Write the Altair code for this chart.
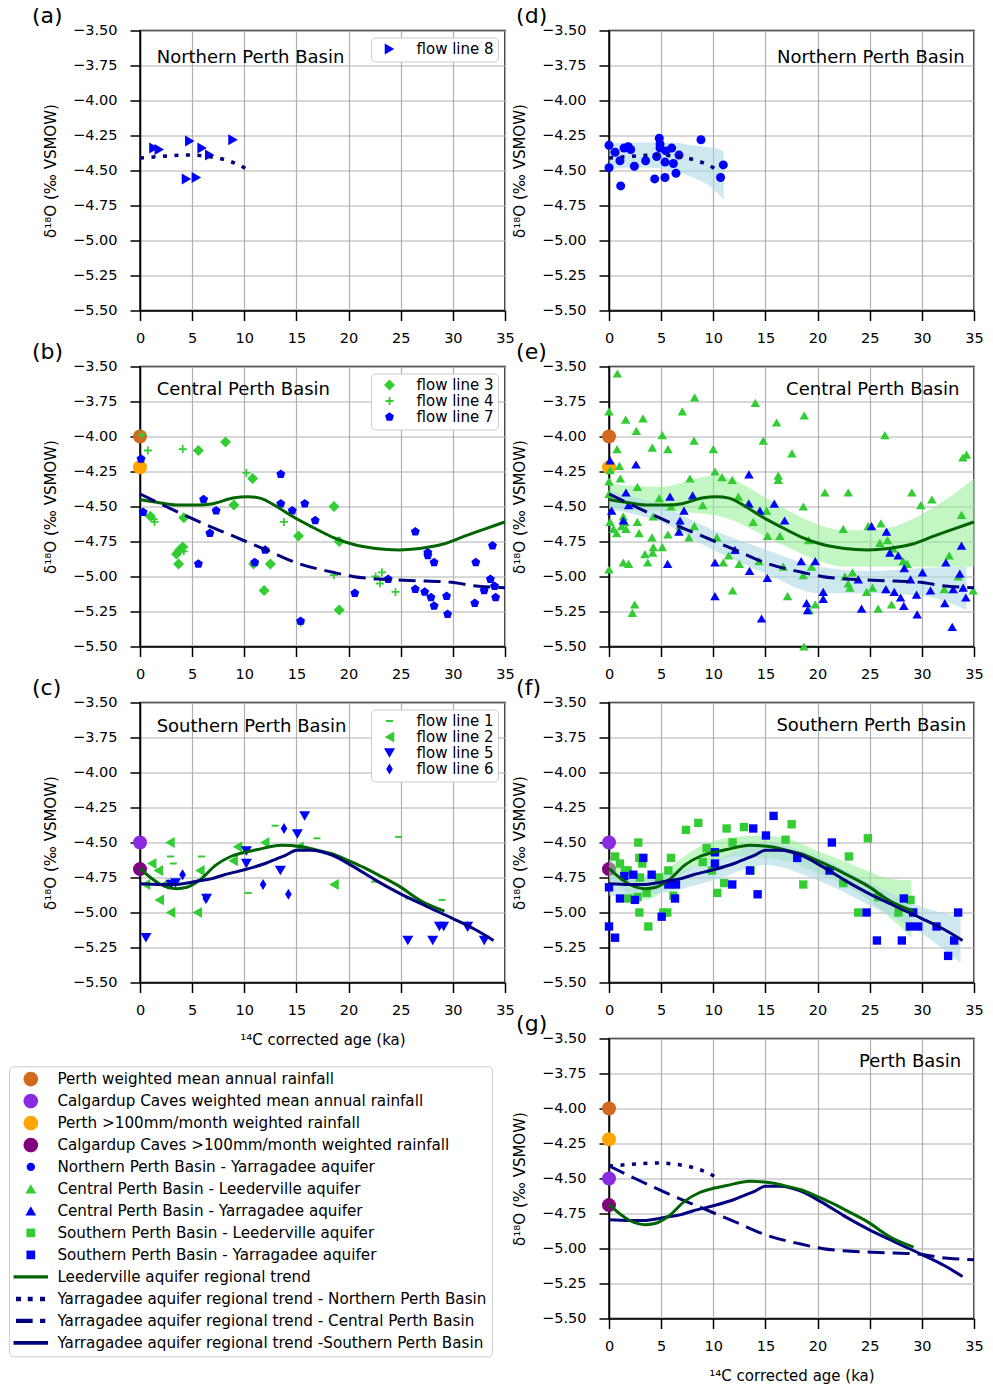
import altair as alt
import pandas as pd

FONT = "DejaVu Sans"
X_TITLE = "¹⁴C corrected age (ka)"
Y_TITLE = "δ¹⁸O (‰ VSMOW)"
AGE_TICKS = [0, 5, 10, 15, 20, 25, 30, 35]
D18O_TICKS = [-3.5, -3.75, -4.0, -4.25, -4.5, -4.75, -5.0, -5.25, -5.5]

# ---------------- rainfall reference values (plotted at age 0) ----------------
RAIN_LABELS = ["Perth weighted mean annual rainfall",
               "Calgardup Caves weighted mean annual rainfall",
               "Perth >100mm/month weighted rainfall",
               "Calgardup Caves >100mm/month weighted rainfall"]
RAIN_D18O = [-4.00, -4.50, -4.22, -4.69]
RAIN_COLORS = ["#d2691e", "#8a2be2", "#ffa500", "#800080"]

# ---------------- flow lines (panels a, b, c) ----------------
FL8_AGE = [1.34, 1.85, 4.78, 5.96, 6.69, 8.92, 4.46, 5.41]
FL8_D18O = [-4.34, -4.35, -4.29, -4.34, -4.39, -4.28, -4.56, -4.55]

FL3_AGE = [1.0, 4.2, 3.5, 3.8, 4.1, 3.7, 5.6, 8.2, 10.8, 9.0, 12.5, 11.9, 10.9, 15.2, 18.6, 19.1, 19.1]
FL3_D18O = [-4.57, -4.58, -4.84, -4.81, -4.79, -4.91, -4.10, -4.04, -4.30, -4.49, -4.91, -5.10, -4.91,
            -4.71, -4.50, -4.75, -5.24]
FL4_AGE = [0.15, 0.75, 4.1, 10.2, 1.4, 1.3, 4.2, 13.8, 15.4, 18.6, 22.6, 23.2, 23.0, 24.5]
FL4_D18O = [-3.99, -4.10, -4.09, -4.26, -4.61, -4.59, -4.82, -4.61, -5.33, -4.99, -5.00, -4.97, -5.05, -5.11]
FL7_AGE = [0.1, 0.3, 6.1, 7.3, 6.7, 5.6, 11.0, 12.0, 13.5, 13.5, 14.6, 15.8, 16.8, 15.4, 20.6, 23.8, 26.4,
           26.4, 27.3, 27.6, 27.6, 28.2, 27.9, 28.2, 29.4, 29.5, 32.1, 32.2, 33.0, 33.6, 33.8, 34.0, 34.1]
FL7_D18O = [-4.16, -4.54, -4.45, -4.53, -4.69, -4.91, -4.90, -4.81, -4.27, -4.48, -4.53, -4.48, -4.60,
            -5.32, -5.12, -5.02, -4.68, -5.09, -5.11, -4.83, -4.85, -4.90, -5.15, -5.21, -5.14, -5.27,
            -5.19, -4.90, -5.10, -5.02, -4.78, -5.07, -5.15]

FL1_AGE = [2.93, 3.19, 5.9, 12.95, 16.97, 24.8, 10.37, 22.49, 25.77, 28.96]
FL1_D18O = [-4.60, -4.65, -4.60, -4.38, -4.47, -4.46, -4.86, -4.78, -4.90, -4.91]
FL2_AGE = [2.87, 1.12, 1.75, 0.54, 1.85, 2.93, 5.49, 5.74, 9.35, 11.96, 8.93, 15.25, 18.6, 2.33]
FL2_D18O = [-4.50, -4.65, -4.70, -4.80, -4.91, -5.00, -5.00, -4.70, -4.53, -4.50, -4.63, -4.53, -4.80, -4.80]
FL5_AGE = [0.57, 2.97, 3.41, 6.38, 10.2, 10.2, 13.46, 15.09, 15.79, 25.68, 28.07, 28.71, 29.12, 31.42, 33.01]
FL5_D18O = [-5.18, -4.80, -4.79, -4.90, -4.56, -4.65, -4.70, -4.44, -4.31, -5.20, -5.20, -5.10, -5.10,
            -5.10, -5.20]
FL6_AGE = [4.08, 6.32, 11.8, 13.81, 14.23, 31.42]
FL6_D18O = [-4.73, -4.90, -4.80, -4.40, -4.87, -5.10]

# ---------------- aquifer samples (panels d, e, f) ----------------
NY_AGE = [0.0, 0.0, 0.58, 1.05, 1.12, 1.44, 1.85, 2.08, 2.43, 3.51, 4.38, 4.57, 4.82, 4.89, 4.89, 5.37,
          5.37, 5.46, 6.01, 6.17, 6.42, 6.71, 8.82, 10.70, 10.96]
NY_D18O = [-4.32, -4.48, -4.37, -4.43, -4.61, -4.34, -4.33, -4.35, -4.47, -4.43, -4.56, -4.40, -4.27,
           -4.31, -4.34, -4.44, -4.55, -4.36, -4.34, -4.45, -4.52, -4.39, -4.28, -4.55, -4.46]

CL_AGE = [0.80, 0.0, 1.60, 3.26, 2.62, 5.11, 5.65, 4.15, 0.77, 7.03,
          8.21, 8.15, 10.0, 14.03, 14.79, 16.07, 18.72, 17.54, 16.23, 16.23,
          10.16, 10.83, 11.82, 7.76, 2.72, 0.99, 0.10, 1.09, 0.0, 0.0,
          4.82, 5.94, 8.98, 12.40, 13.35, 15.11, 18.63, 20.70, 22.94, 29.04,
          29.90, 30.96, 33.80, 33.93, 34.28, 26.45, 13.83, 15.21, 16.39, 19.14,
          22.46, 24.86, 26.07, 25.97, 26.71, 27.25, 28.21, 28.59, 32.62, 33.48,
          32.14, 34.92, 25.27, 24.70, 25.81, 27.09, 23.10, 22.94, 22.62, 23.35,
          19.42, 18.63, 16.71, 17.12, 19.78, 19.20, 18.69, 14.38, 12.49, 11.85,
          10.96, 10.35, 11.47, 8.18, 7.67, 6.81, 5.65, 5.11, 4.12, 4.25,
          4.19, 3.45, 3.71, 2.88, 2.72, 4.25, 1.37, 1.53, 1.21, 1.63,
          0.73, 0.42, 0.10, 0.0, 1.37, 1.88, 2.46, 2.24]
CL_D18O = [-3.55, -3.82, -3.88, -3.87, -3.96, -3.99, -4.09, -4.08, -4.09, -3.82,
           -3.72, -4.03, -4.09, -3.76, -4.03, -3.90, -3.85, -4.12, -4.28, -4.31,
           -4.25, -4.29, -4.31, -4.30, -4.36, -4.21, -4.24, -4.30, -4.32, -4.41,
           -4.44, -4.50, -4.49, -4.43, -4.48, -4.53, -4.50, -4.40, -4.40, -4.40,
           -4.49, -4.45, -4.56, -4.15, -4.13, -3.99, -4.61, -4.71, -4.71, -4.74,
           -4.66, -4.64, -4.62, -4.76, -4.74, -4.80, -4.89, -4.91, -4.85, -5.00,
           -5.09, -5.10, -5.08, -5.11, -5.23, -5.20, -5.08, -5.05, -5.00, -4.97,
           -4.93, -4.99, -4.93, -5.14, -5.20, -5.24, -5.50, -4.89, -4.91, -5.10,
           -4.90, -4.72, -4.85, -4.64, -4.72, -4.64, -4.70, -4.79, -4.72, -4.79,
           -4.83, -4.84, -4.90, -4.69, -4.61, -4.57, -4.57, -4.61, -4.64, -4.66,
           -4.69, -4.66, -4.61, -4.95, -4.90, -4.91, -5.20, -5.26]

CY_AGE = [0.10, 0.26, 1.63, 1.88, 1.37, 2.59, 5.85, 7.19, 6.81, 6.71,
          8.02, 5.62, 13.42, 13.42, 14.47, 15.85, 16.84, 12.08, 10.16, 10.16,
          13.48, 15.18, 14.63, 18.43, 19.78, 20.54, 20.54, 18.95, 19.04, 23.90,
          24.22, 25.18, 26.61, 26.93, 27.73, 26.55, 27.35, 27.96, 28.27, 28.31,
          28.91, 29.49, 29.55, 30.06, 30.83, 32.20, 32.30, 32.91, 33.00, 33.64,
          33.80, 33.96, 34.22]
CY_D18O = [-4.17, -4.53, -4.40, -4.49, -4.60, -4.20, -4.43, -4.53, -4.60, -4.68,
           -4.42, -4.91, -4.27, -4.48, -4.53, -4.48, -4.60, -4.81, -4.90, -5.14,
           -4.96, -5.01, -5.30, -4.89, -4.89, -5.11, -5.16, -5.19, -5.24, -5.02,
           -5.23, -4.64, -4.68, -4.83, -4.85, -5.09, -5.11, -5.15, -5.21, -4.94,
           -5.02, -5.13, -5.27, -4.97, -5.10, -5.19, -4.90, -5.36, -5.09, -4.98,
           -4.78, -5.08, -5.15]

SL_AGE = [0.58, 1.05, 1.53, 1.79, 2.81, 2.91, 3.19, 2.97, 2.75, 1.85,
          2.91, 3.77, 3.61, 4.79, 5.21, 5.59, 5.69, 5.94, 6.17, 7.38,
          8.56, 9.36, 8.98, 9.87, 10.38, 11.05, 11.28, 11.85, 12.94, 13.58,
          16.93, 17.51, 18.63, 22.46, 23.00, 24.82, 23.90, 25.81, 27.76, 28.91]
SL_D18O = [-4.60, -4.65, -4.70, -4.70, -4.50, -4.61, -4.65, -4.75, -4.89, -4.90,
           -5.00, -5.10, -4.86, -4.75, -5.00, -5.00, -4.70, -4.61, -4.88, -4.41,
           -4.36, -4.54, -4.64, -4.70, -4.86, -4.79, -4.40, -4.50, -4.39, -4.70,
           -4.48, -4.37, -4.80, -4.79, -4.60, -4.47, -5.00, -4.89, -5.00, -4.91]

SY_AGE = [0.0, 0.0, 0.58, 1.05, 1.47, 2.33, 2.49, 3.29, 4.09, 5.05,
          5.69, 6.42, 6.33, 10.16, 10.16, 11.82, 13.51, 13.83, 14.25, 15.05,
          15.78, 18.05, 21.37, 21.15, 24.70, 25.69, 28.08, 28.27, 29.17, 28.85,
          29.65, 31.41, 32.52, 33.10, 33.48]
SY_D18O = [-4.82, -5.10, -5.18, -4.90, -4.74, -4.73, -4.91, -4.61, -4.73, -5.03,
           -4.80, -4.80, -4.90, -4.57, -4.65, -4.80, -4.70, -4.40, -4.87, -4.45,
           -4.31, -4.61, -4.50, -4.70, -5.00, -5.20, -5.20, -4.90, -5.00, -5.10,
           -5.10, -5.10, -5.31, -5.20, -5.00]

# ---------------- regional trends ----------------
N_TREND_AGE = [0, 2, 4, 5, 6, 7, 8, 9, 10, 10.4]
N_TREND_D18O = [-4.41, -4.40, -4.39, -4.39, -4.395, -4.405, -4.42, -4.445, -4.48, -4.50]

C_LEED_AGE = [0, 1.6, 3.5, 5.7, 7, 8.9, 10.35, 11.5, 13.1, 14.6, 16.6, 18.5, 20.4, 22.6, 24.8, 26.8, 29,
              31.2, 33.1, 35]
C_LEED_D18O = [-4.45, -4.47, -4.49, -4.49, -4.48, -4.44, -4.43, -4.44, -4.50, -4.57, -4.65, -4.72, -4.77,
               -4.80, -4.81, -4.80, -4.77, -4.71, -4.66, -4.61]

C_YARRA_AGE = [0, 2.5, 5.7, 8.9, 12.1, 15.3, 18.5, 20.4, 23.2, 26.4, 29.6, 32.5, 35]
C_YARRA_D18O = [-4.41, -4.50, -4.61, -4.71, -4.81, -4.91, -4.97, -5.00, -5.02, -5.03, -5.04, -5.07, -5.08]

S_LEED_AGE = [0, 1, 2, 3.5, 4.5, 5.7, 7.3, 8.7, 10, 11.3, 13.5, 15.5, 17, 18.4, 20, 21.5, 22.8, 24.8, 27, 29.2]
S_LEED_D18O = [-4.685, -4.75, -4.80, -4.83, -4.82, -4.77, -4.66, -4.60, -4.57, -4.55, -4.52, -4.53, -4.555,
               -4.58, -4.63, -4.68, -4.73, -4.81, -4.92, -4.99]

S_YARRA_AGE = [0, 2, 3.3, 4.5, 5.5, 6.8, 8.1, 10, 12, 13, 14, 15, 16.4, 18.4, 20.3, 22.5, 24.8, 27.3, 29.9,
               32.1, 33.9]
S_YARRA_D18O = [-4.795, -4.80, -4.80, -4.79, -4.775, -4.76, -4.73, -4.695, -4.65, -4.62, -4.59, -4.555,
                -4.555, -4.59, -4.665, -4.765, -4.86, -4.95, -5.04, -5.12, -5.20]

# ---------------- confidence bands ----------------
N_BAND_AGE = [0, 2, 4, 6, 8, 10, 11]
N_BAND_HI = [-4.31, -4.30, -4.30, -4.30, -4.32, -4.34, -4.36]
N_BAND_LO = [-4.49, -4.48, -4.48, -4.50, -4.55, -4.63, -4.71]

C_LEED_BAND_AGE = [0, 1.7, 4.9, 10, 11.9, 15.1, 17.7, 20.1, 22.5, 25, 27.3, 30.1, 32.7, 35]
C_LEED_BAND_HI = [-4.34, -4.35, -4.36, -4.28, -4.31, -4.44, -4.55, -4.63, -4.67, -4.67, -4.645, -4.55,
                  -4.43, -4.30]
C_LEED_BAND_LO = [-4.51, -4.52, -4.53, -4.56, -4.60, -4.72, -4.81, -4.89, -4.93, -4.93, -4.93, -4.93,
                  -4.93, -4.93]

C_YARRA_BAND_AGE = [0, 4.9, 10, 15.1, 20.1, 25, 30.1, 34.3]
C_YARRA_BAND_HI = [-4.39, -4.49, -4.67, -4.81, -4.93, -4.96, -4.94, -4.93]
C_YARRA_BAND_LO = [-4.52, -4.61, -4.81, -4.98, -5.12, -5.12, -5.14, -5.24]

S_LEED_BAND_AGE = [0, 2, 3.5, 5, 6.5, 8, 10, 12, 15, 17.5, 20, 22.5, 25, 27, 29]
S_LEED_BAND_HI = [-4.62, -4.72, -4.75, -4.72, -4.64, -4.56, -4.49, -4.46, -4.45, -4.48, -4.56, -4.63,
                  -4.71, -4.76, -4.77]
S_LEED_BAND_LO = [-4.75, -4.87, -4.91, -4.86, -4.76, -4.68, -4.64, -4.60, -4.61, -4.64, -4.72, -4.80,
                  -4.92, -5.04, -5.18]

S_YARRA_BAND_AGE = [0, 5, 10, 15, 20, 25, 30, 33.7]
S_YARRA_BAND_HI = [-4.74, -4.72, -4.63, -4.50, -4.60, -4.79, -4.96, -5.03]
S_YARRA_BAND_LO = [-4.88, -4.86, -4.77, -4.66, -4.77, -4.95, -5.15, -5.36]

# ---------------- main legend ----------------
LEGEND_LABELS = RAIN_LABELS + [
    "Northern Perth Basin - Yarragadee aquifer",
    "Central Perth Basin - Leederville aquifer",
    "Central Perth Basin - Yarragadee aquifer",
    "Southern Perth Basin - Leederville aquifer",
    "Southern Perth Basin - Yarragadee aquifer",
    "Leederville aquifer regional trend",
    "Yarragadee aquifer regional trend - Northern Perth Basin",
    "Yarragadee aquifer regional trend - Central Perth Basin",
    "Yarragadee aquifer regional trend -Southern Perth Basin",
]

# ---------------- styles ----------------
BLUE = "#0000ff"
LIME = "#32cd32"
DGREEN = "#006400"
NAVY = "#000080"

PLUS = "M-0.73,-0.16H0.73V0.16H-0.73Z M-0.16,-0.73H0.16V0.73H-0.16Z"
PENTAGON = "M0,-0.85L0.81,-0.26L0.5,0.69L-0.5,0.69L-0.81,-0.26Z"
THIN_D = "M0,-1L0.6,0L0,1L-0.6,0Z"
HLINE = "M-0.64,-0.18H0.64V0.18H-0.64Z"

BIG_CIRCLE = "M-0.97,0A0.97,0.97 0 1,0 0.97,0A0.97,0.97 0 1,0 -0.97,0Z"
SMALL_CIRCLE = "M-0.56,0A0.56,0.56 0 1,0 0.56,0A0.56,0.56 0 1,0 -0.56,0Z"
TRI = "M0,-0.62L0.72,0.6L-0.72,0.6Z"
SQUARE = "M-0.58,-0.58H0.58V0.58H-0.58Z"
SOLID = "M-2.3,-0.22H2.3V0.22H-2.3Z"
DOTTED = "M-1.97,-0.3H-1.31V0.3H-1.97Z M-0.41,-0.3H0.25V0.3H-0.41Z M1.23,-0.3H1.89V0.3H1.23Z"
DASHED = "M-1.97,-0.28H0.25V0.28H-1.97Z M1.23,-0.28H1.93V0.28H1.23Z"
SOLID_NAVY = "M-2.3,-0.26H2.3V0.26H-2.3Z"

LEGEND_SHAPES = [BIG_CIRCLE, BIG_CIRCLE, BIG_CIRCLE, BIG_CIRCLE, SMALL_CIRCLE, TRI, TRI, SQUARE, SQUARE,
                 SOLID, DOTTED, DASHED, SOLID_NAVY]
LEGEND_COLORS = RAIN_COLORS + [BLUE, LIME, BLUE, LIME, BLUE, DGREEN, NAVY, NAVY, NAVY]

W, H = 365, 280
ROW_GAP = 56
COL_GAP = 104
XS = alt.Scale(domain=[0, 35], nice=False, zero=False)
YS = alt.Scale(domain=[-5.5, -3.5], nice=False, zero=False)

# panel-letter placement (data units, outside the plotting area)
LETTER_D18O = -3.449
LETTER_AGE_LEFT = -10.36
LETTER_AGE_RIGHT = -8.91


def ex(show_title):
    return alt.X("age:Q", scale=XS,
                 axis=alt.Axis(values=AGE_TICKS, title=X_TITLE if show_title else None))


def ey(field="d18o"):
    return alt.Y(f"{field}:Q", scale=YS,
                 axis=alt.Axis(values=D18O_TICKS, format=".2f", title=Y_TITLE))


def pts(ages, vals, color, shape, size, xt):
    df = pd.DataFrame({"age": ages, "d18o": vals})
    return alt.Chart(df).mark_point(filled=True, opacity=1, color=color, shape=shape, size=size,
                                    strokeWidth=0).encode(x=ex(xt), y=ey())


def line(ages, vals, color, xt, dash=None, width=3):
    df = pd.DataFrame({"age": ages, "d18o": vals})
    kw = dict(color=color, strokeWidth=width, interpolate="monotone")
    if dash:
        kw["strokeDash"] = dash
    return alt.Chart(df).mark_line(**kw).encode(x=ex(xt), y=ey())


def band(ages, hi, lo, color, opacity, xt):
    df = pd.DataFrame({"age": ages, "hi": hi, "lo": lo})
    return alt.Chart(df).mark_area(color=color, opacity=opacity, interpolate="monotone").encode(
        x=ex(xt), y=ey("hi"), y2="lo:Q")


def rain(indices, xt):
    return [pts([0.0], [RAIN_D18O[i]], RAIN_COLORS[i], "circle", 196, xt) for i in indices]


def flows(groups, xt):
    frames, labels, colors, shapes = [], [], [], []
    for label, ages, vals, color, shape in groups:
        frames.append(pd.DataFrame({"age": ages, "d18o": vals, "flow": label}))
        labels.append(label)
        colors.append(color)
        shapes.append(shape)
    df = pd.concat(frames, ignore_index=True)
    leg = alt.Legend(title=None, orient="top-right", offset=7, symbolSize=121, symbolStrokeWidth=0,
                     symbolOffset=7, labelOffset=19.5, labelFontSize=15, labelFont=FONT,
                     labelColor="black", rowPadding=0, padding=4, strokeColor="#cccccc",
                     fillColor="white", cornerRadius=4, symbolOpacity=1)
    return alt.Chart(df).mark_point(filled=True, opacity=1, size=121, strokeWidth=0).encode(
        x=ex(xt), y=ey(),
        color=alt.Color("flow:N", scale=alt.Scale(domain=labels, range=colors), legend=leg),
        shape=alt.Shape("flow:N", scale=alt.Scale(domain=labels, range=shapes), legend=leg),
    )


def note(text, age, val, align, xt, size=18):
    df = pd.DataFrame({"age": [age], "d18o": [val], "t": [text]})
    return alt.Chart(df).mark_text(align=align, baseline="alphabetic", fontSize=size, font=FONT,
                                   color="black").encode(x=ex(xt), y=ey(), text="t:N")


def panel(layers, letter, letter_age, xt):
    layers = layers + [note(letter, letter_age, LETTER_D18O, "left", xt, size=22)]
    return alt.layer(*layers).properties(width=W, height=H)


pa = panel([
    flows([("flow line 8", FL8_AGE, FL8_D18O, BLUE, "triangle-right")], False),
    line(N_TREND_AGE, N_TREND_D18O, NAVY, False, dash=[4, 7.5], width=3.5),
    note("Northern Perth Basin", 1.6, -3.73, "left", False),
], "(a)", LETTER_AGE_LEFT, False)

pd_ = panel([
    band(N_BAND_AGE, N_BAND_HI, N_BAND_LO, "#add8e6", 0.6, False),
    pts(NY_AGE, NY_D18O, BLUE, "circle", 81, False),
    line(N_TREND_AGE, N_TREND_D18O, NAVY, False, dash=[4, 7.5], width=3.5),
    note("Northern Perth Basin", 34.1, -3.73, "right", False),
], "(d)", LETTER_AGE_RIGHT, False)

pb = panel(rain([0, 2], False) + [
    flows([("flow line 3", FL3_AGE, FL3_D18O, LIME, "diamond"),
           ("flow line 4", FL4_AGE, FL4_D18O, LIME, PLUS),
           ("flow line 7", FL7_AGE, FL7_D18O, BLUE, PENTAGON)], False),
    line(C_LEED_AGE, C_LEED_D18O, DGREEN, False),
    line(C_YARRA_AGE, C_YARRA_D18O, NAVY, False, dash=[17, 8]),
    note("Central Perth Basin", 1.6, -3.70, "left", False),
], "(b)", LETTER_AGE_LEFT, False)

pe = panel(rain([0, 2], False) + [
    band(C_LEED_BAND_AGE, C_LEED_BAND_HI, C_LEED_BAND_LO, "#90ee90", 0.55, False),
    band(C_YARRA_BAND_AGE, C_YARRA_BAND_HI, C_YARRA_BAND_LO, "#add8e6", 0.6, False),
    pts(CL_AGE, CL_D18O, LIME, "triangle-up", 90, False),
    pts(CY_AGE, CY_D18O, BLUE, "triangle-up", 90, False),
    line(C_LEED_AGE, C_LEED_D18O, DGREEN, False),
    line(C_YARRA_AGE, C_YARRA_D18O, NAVY, False, dash=[17, 8]),
    note("Central Perth Basin", 33.6, -3.70, "right", False),
], "(e)", LETTER_AGE_RIGHT, False)

pc = panel(rain([1, 3], True) + [
    flows([("flow line 1", FL1_AGE, FL1_D18O, LIME, HLINE),
           ("flow line 2", FL2_AGE, FL2_D18O, LIME, "triangle-left"),
           ("flow line 5", FL5_AGE, FL5_D18O, BLUE, "triangle-down"),
           ("flow line 6", FL6_AGE, FL6_D18O, BLUE, THIN_D)], True),
    line(S_LEED_AGE, S_LEED_D18O, DGREEN, True),
    line(S_YARRA_AGE, S_YARRA_D18O, NAVY, True),
    note("Southern Perth Basin", 1.6, -3.71, "left", True),
], "(c)", LETTER_AGE_LEFT, True)

pf = panel(rain([1, 3], False) + [
    band(S_LEED_BAND_AGE, S_LEED_BAND_HI, S_LEED_BAND_LO, "#90ee90", 0.55, False),
    band(S_YARRA_BAND_AGE, S_YARRA_BAND_HI, S_YARRA_BAND_LO, "#add8e6", 0.6, False),
    pts(SL_AGE, SL_D18O, LIME, "square", 70, False),
    pts(SY_AGE, SY_D18O, BLUE, "square", 70, False),
    line(S_LEED_AGE, S_LEED_D18O, DGREEN, False),
    line(S_YARRA_AGE, S_YARRA_D18O, NAVY, False),
    note("Southern Perth Basin", 34.24, -3.70, "right", False),
], "(f)", LETTER_AGE_RIGHT, False)

pg = panel(rain([0, 2, 1, 3], True) + [
    line(N_TREND_AGE, N_TREND_D18O, NAVY, True, dash=[4, 7.5], width=3.5),
    line(C_YARRA_AGE, C_YARRA_D18O, NAVY, True, dash=[17, 8]),
    line(S_YARRA_AGE, S_YARRA_D18O, NAVY, True),
    line(S_LEED_AGE, S_LEED_D18O, DGREEN, True),
    note("Perth Basin", 33.76, -3.70, "right", True),
], "(g)", LETTER_AGE_RIGHT, True)

big_leg = alt.Legend(title=None, orient="none", legendX=-131, legendY=27.8, direction="vertical",
                     symbolSize=225, symbolStrokeWidth=0, symbolOffset=9.2, labelOffset=19,
                     labelFontSize=15.2, labelFont=FONT, labelColor="black", labelLimit=800,
                     rowPadding=6, padding=5, strokeColor="#cccccc", fillColor="white",
                     cornerRadius=4, symbolOpacity=1)
legend_chart = alt.Chart(pd.DataFrame({"entry": LEGEND_LABELS})).mark_point(
    filled=True, opacity=0).encode(
    color=alt.Color("entry:N", scale=alt.Scale(domain=LEGEND_LABELS, range=LEGEND_COLORS), legend=big_leg),
    shape=alt.Shape("entry:N", scale=alt.Scale(domain=LEGEND_LABELS, range=LEGEND_SHAPES), legend=big_leg),
).properties(width=W, height=H, view=alt.ViewBackground(stroke="transparent"))

chart = alt.concat(
    pa, pd_, pb, pe, pc, pf, legend_chart, pg,
    columns=2, spacing={"row": ROW_GAP, "column": COL_GAP}, bounds="flush",
).resolve_scale(
    color="independent", shape="independent"
).properties(
    padding={"left": 0, "top": -3.5, "right": 0, "bottom": 0}
).configure(font=FONT).configure_view(
    stroke="black", strokeWidth=1.5
).configure_axis(
    labelFont=FONT, labelFontSize=14.5, labelColor="black", labelFlush=False,
    titleFont=FONT, titleFontSize=15, titleFontWeight="normal", titleColor="black",
    tickColor="black", tickSize=10, tickWidth=1.5, domainColor="black", domainWidth=1.5,
    gridColor="#b0b0b0", gridWidth=1.2,
).configure_axisX(
    labelPadding=11, titlePadding=15
).configure_axisY(
    labelPadding=13, titlePadding=14
)

chart.save("out.html", embed_options={"renderer": "svg", "actions": False})
